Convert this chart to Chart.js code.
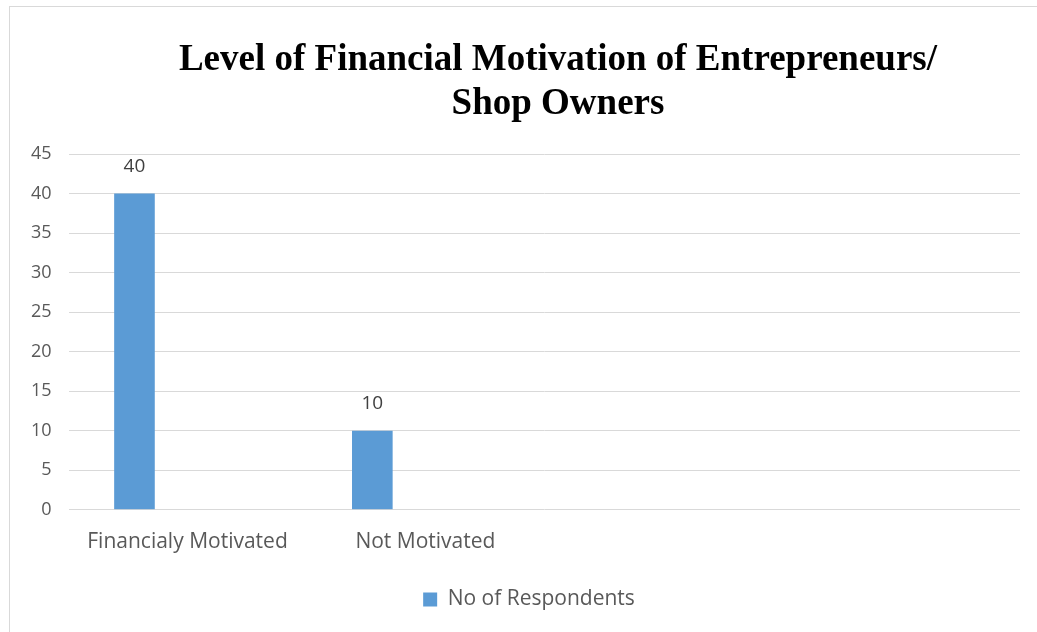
<!DOCTYPE html>
<html>
<head>
<meta charset="utf-8">
<script src="https://cdn.jsdelivr.net/npm/chart.js@4.4.1/dist/chart.umd.min.js"></script>
<style>
  html, body { margin: 0; padding: 0; background: #ffffff; }
  #wrap { position: relative; width: 1037px; height: 632px; overflow: hidden; }
  #frame {
    position: absolute; left: 9px; top: 6px; width: 1100px; height: 700px;
    border-left: 1px solid #d9d9d9; border-top: 1px solid #d9d9d9;
    box-sizing: border-box;
  }
  #title {
    position: absolute; left: 58px; width: 1000px; top: 36px; margin: 0;
    text-align: center; white-space: nowrap;
    font-family: "Liberation Serif", "Times New Roman", serif;
    font-weight: bold; font-size: 37px; line-height: 44px; color: #000000;
  }
  #title span { display: block; }
  canvas { position: absolute; left: 0; top: 0; }
</style>
</head>
<body>
<div id="wrap">
  <div id="frame"></div>
  <canvas id="chart" width="1037" height="632"></canvas>
  <div id="title"><span>Level of Financial Motivation of Entrepreneurs/</span><span>Shop Owners</span></div>
</div>
<script>
// Survey responses: level of financial motivation
const categories = ['Financialy Motivated', 'Not Motivated', '', ''];
const respondents = [40, 10, null, null];
const blankSeries = [null, null, null, null];   // empty second column of the sheet
const seriesName = 'No of Respondents';
const yTicks = { min: 0, max: 45, step: 5 };

const textGrey = '#595959';
const gridGrey = '#d9d9d9';
const barBlue = '#5b9bd5';

// Value labels above each bar, placed from the bar element itself
const valueLabels = {
  id: 'valueLabels',
  afterDatasetsDraw(chart) {
    const { ctx } = chart;
    const meta = chart.getDatasetMeta(0);
    const data = chart.data.datasets[0].data;
    ctx.save();
    ctx.font = '19px "Open Sans", sans-serif';
    ctx.fillStyle = '#404040';
    ctx.textAlign = 'center';
    ctx.textBaseline = 'middle';
    meta.data.forEach((bar, i) => {
      const v = data[i];
      if (v === null || v === undefined) return;
      ctx.fillText(String(v), bar.x, bar.y - 27);
    });
    ctx.restore();
  }
};

// Nudge the legend row a little to the right of the canvas centre
const legendShift = {
  id: 'legendShift',
  afterLayout(chart) {
    if (chart.legend) {
      chart.legend.left += 12;
      chart.legend.right += 12;
    }
  }
};

new Chart(document.getElementById('chart'), {
  type: 'bar',
  data: {
    labels: categories,
    datasets: [
      {
        label: seriesName,
        data: respondents,
        backgroundColor: barBlue,
        borderWidth: 0,
        categoryPercentage: 0.892,
        barPercentage: 0.383
      },
      {
        label: '',
        data: blankSeries,
        backgroundColor: 'rgba(0,0,0,0)',
        borderWidth: 0,
        categoryPercentage: 0.892,
        barPercentage: 0.383
      }
    ]
  },
  options: {
    responsive: false,
    animation: false,
    devicePixelRatio: 1,
    layout: { padding: { left: 14, right: 17, top: 154, bottom: 12 } },
    scales: {
      x: {
        grid: { display: false, drawTicks: false },
        border: { display: false },
        ticks: {
          padding: 20,
          color: textGrey,
          font: { family: '"Open Sans", sans-serif', size: 21 },
          maxRotation: 0,
          autoSkip: false
        }
      },
      y: {
        min: yTicks.min,
        max: yTicks.max,
        grid: { color: gridGrey, lineWidth: 1, drawTicks: false },
        border: { display: false },
        ticks: {
          stepSize: yTicks.step,
          padding: 17,
          color: textGrey,
          font: { family: '"Open Sans", sans-serif', size: 18 }
        }
      }
    },
    plugins: {
      title: { display: false },
      tooltip: { enabled: false },
      legend: {
        position: 'bottom',
        labels: {
          filter: (item) => item.text !== '',
          boxWidth: 14,
          boxHeight: 14,
          padding: 14,
          color: textGrey,
          font: { family: '"Open Sans", sans-serif', size: 21 }
        }
      }
    }
  },
  plugins: [valueLabels, legendShift]
});
</script>
</body>
</html>
